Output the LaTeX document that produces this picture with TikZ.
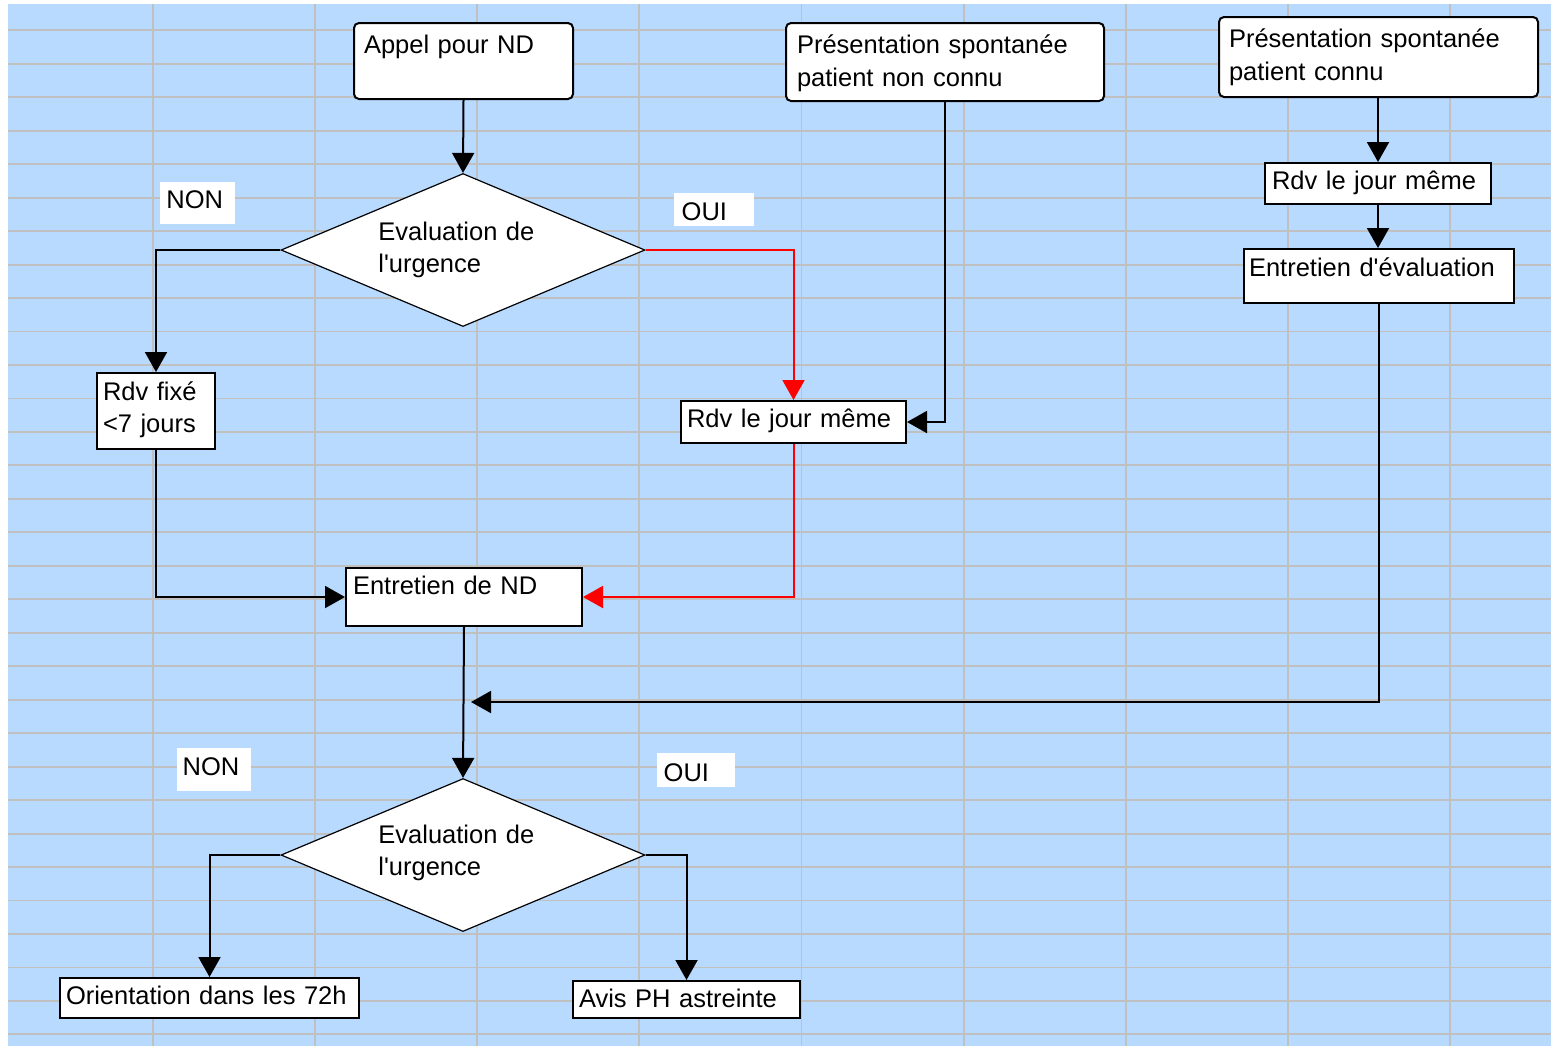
\documentclass[tikz,border=0pt]{standalone}
\usepackage{fontspec}
\setmainfont{Liberation Sans}
\usetikzlibrary{arrows.meta,shapes.geometric,calc}
\definecolor{bgblue}{RGB}{184,218,255}
\definecolor{gridgray}{RGB}{192,192,192}
\begin{document}
\begin{tikzpicture}[x=0.5pt,y=-0.5pt,
  font=\fontsize{12.75pt}{16.25pt}\selectfont,
  gridline/.style={draw=gridgray, line width=0.95pt},
  box/.style={draw=black, line width=1pt, fill=white, anchor=north west, inner ysep=0pt, align=left},
  rbox/.style={box, rounded corners=2.5pt},
  lab/.style={fill=white, anchor=north west, inner ysep=0pt, align=left},
  dec/.style={shape=diamond, draw=black, line width=0.6pt, fill=white, inner sep=0pt, minimum width=182pt, minimum height=76.5pt},
  dtext/.style={anchor=base west, inner sep=0pt, text width=90pt, align=left},
  conn/.style={line width=1pt, -{Triangle[length=10pt,width=11pt]}},
  redconn/.style={conn, draw=red}
]
\useasboundingbox (0,0) rectangle (1551,1046);
\fill[bgblue] (8,4) rectangle (1551,1046);
\foreach \i in {0,...,8} \draw[gridline] ({152.7+162.2*\i},4) -- ({152.7+162.2*\i},1046);
\foreach \j in {0,...,30} \draw[gridline] (8,{30.3+33.47*\j}) -- (1551,{30.3+33.47*\j});

% boxes
\node[rbox, inner xsep=5pt, text width=99.5pt, text height=15.35pt, text depth=22.65pt] (appel) at (353,22) {Appel pour ND};
\node[rbox, inner xsep=5.5pt, text width=148pt, text height=15.3pt, text depth=23.7pt] (pnc) at (785,22) {\mbox{Présentation spontanée}\\patient non connu};
\node[rbox, inner xsep=5pt, text width=149.5pt, text height=15.35pt, text depth=24.65pt] (pc) at (1218,16) {\mbox{Présentation spontanée}\\patient connu};
\node[box, inner xsep=3.5pt, text width=106pt, text height=13pt, text depth=7.5pt] (rdvr) at (1264,162) {\mbox{Rdv le jour même}};
\node[box, inner xsep=2.5pt, text width=130pt, text height=13.5pt, text depth=13.5pt] (eval) at (1243,248) {\mbox{Entretien d\textquotesingle évaluation}};
\node[box, inner xsep=3pt, text width=53pt, text height=13.65pt, text depth=24.35pt] (fixe) at (96,372) {Rdv fixé\\\mbox{<7 jours}};
\node[box, inner xsep=3pt, text width=106.5pt, text height=13.35pt, text depth=7.65pt] (rdvm) at (680,400) {\mbox{Rdv le jour même}};
\node[box, inner xsep=3.5pt, text width=111pt, text height=13.35pt, text depth=15.65pt] (nd) at (345,567) {\mbox{Entretien de ND}};
\node[box, inner xsep=3pt, text width=143.5pt, text height=13.15pt, text depth=6.85pt] (orient) at (59,977) {\mbox{Orientation dans les 72h}};
\node[box, inner xsep=3pt, text width=107.5pt, text height=13.35pt, text depth=5.15pt] (avis) at (572,980) {\mbox{Avis PH astreinte}};

% decisions
\node[dec] (d1) at (463,250) {};
\node[dtext] (d1t) at (378,240) {Evaluation de\\l\textquotesingle urgence};
\node[dec] (d2) at (463,855) {};
\node[dtext] (d2t) at (378,843) {Evaluation de\\l\textquotesingle urgence};

% labels
\node[lab, inner xsep=3pt, text width=31.5pt, text height=13.15pt, text depth=7.85pt] (non1) at (160,182) {NON};
\node[lab, inner xsep=3.65pt, text width=32.5pt, text height=13.35pt, text depth=3.15pt] (oui1) at (674,193) {OUI};
\node[lab, inner xsep=2.65pt, text width=31.7pt, text height=13.5pt, text depth=8pt] (non2) at (177,748) {NON};
\node[lab, inner xsep=3.15pt, text width=32.7pt, text height=14pt, text depth=3pt] (oui2) at (657,753) {OUI};

% connectors
\coordinate (merge) at (471,702);
\draw[conn] (appel.south) -- (d1.north);
\draw[conn] (d1.west) -| (fixe.north);
\draw[redconn] (d1.east) -| (rdvm.north);
\draw[conn] (pnc.south) |- (rdvm.east);
\draw[redconn] (rdvm.south) |- (nd.east);
\draw[conn] (fixe.south) |- (nd.west);
\draw[conn] (nd.south) -- (d2.north);
\draw[conn] (eval.south) |- (merge);
\draw[conn] (rdvr.north |- pc.south) -- (rdvr.north);
\draw[conn] (rdvr.south) -- (rdvr.south |- eval.north);
\draw[conn] (d2.west) -| (orient.north);
\draw[conn] (d2.east) -| (avis.north);
\end{tikzpicture}
\end{document}
